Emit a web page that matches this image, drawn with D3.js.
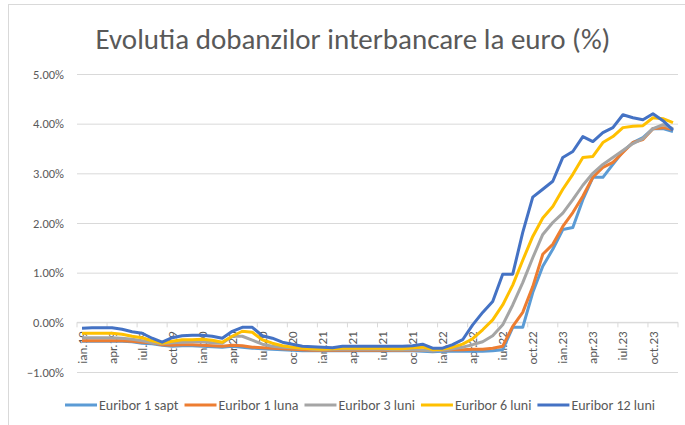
<!DOCTYPE html>
<html>
<head>
<meta charset="utf-8">
<script src="https://cdn.jsdelivr.net/npm/d3@7"></script>
<style>
  body { margin: 0; background: #fff; }
  text { font-family: Calibri, Carlito, Lato, sans-serif; fill: #595959; }
</style>
</head>
<body>
<div id="wrapper"></div>
<script>
// luni in romana, ani 2019-2023
const monthNames = ["ian","feb","mar","apr","mai","iun","iul","aug","sep","oct","noi","dec"];
const years = ["19","20","21","22","23"];
const yTicks = [-1, 0, 1, 2, 3, 4, 5];

const euribor1sapt = [
  -0.38,-0.38,-0.38,-0.38,-0.38,-0.39,-0.42,-0.43,-0.46,-0.48,-0.47,-0.47,
  -0.48,-0.49,-0.50,-0.48,-0.50,-0.52,-0.53,-0.54,-0.55,-0.56,-0.57,-0.57,
  -0.57,-0.57,-0.57,-0.57,-0.57,-0.57,-0.57,-0.57,-0.57,-0.57,-0.58,-0.59,
  -0.58,-0.58,-0.58,-0.58,-0.58,-0.57,-0.55,-0.10,-0.10,0.60,1.13,1.47,
  1.87,1.91,2.47,2.92,2.92,3.18,3.44,3.62,3.72,3.90,3.90,3.84
];
const euribor1luna = [
  -0.37,-0.37,-0.37,-0.37,-0.37,-0.38,-0.40,-0.41,-0.45,-0.46,-0.45,-0.45,
  -0.46,-0.47,-0.48,-0.46,-0.47,-0.50,-0.51,-0.52,-0.53,-0.54,-0.55,-0.56,
  -0.56,-0.56,-0.56,-0.56,-0.56,-0.56,-0.56,-0.56,-0.56,-0.56,-0.56,-0.57,
  -0.56,-0.55,-0.55,-0.54,-0.54,-0.52,-0.48,-0.08,0.20,0.72,1.37,1.57,
  1.93,2.21,2.54,2.92,3.12,3.22,3.42,3.62,3.68,3.90,3.92,3.88
];
const euribor3luni = [
  -0.31,-0.31,-0.31,-0.31,-0.32,-0.34,-0.37,-0.41,-0.43,-0.41,-0.40,-0.39,
  -0.39,-0.41,-0.42,-0.28,-0.28,-0.36,-0.44,-0.48,-0.50,-0.51,-0.52,-0.54,
  -0.55,-0.54,-0.54,-0.54,-0.54,-0.54,-0.54,-0.55,-0.55,-0.55,-0.56,-0.57,
  -0.56,-0.53,-0.50,-0.45,-0.39,-0.27,-0.05,0.35,0.80,1.30,1.77,2.01,
  2.20,2.47,2.76,3.00,3.18,3.32,3.46,3.60,3.70,3.90,3.98,3.90
];
const euribor6luni = [
  -0.22,-0.22,-0.22,-0.22,-0.24,-0.28,-0.31,-0.37,-0.42,-0.38,-0.35,-0.35,
  -0.34,-0.36,-0.40,-0.28,-0.18,-0.20,-0.35,-0.42,-0.47,-0.50,-0.52,-0.53,
  -0.54,-0.53,-0.52,-0.52,-0.52,-0.52,-0.52,-0.53,-0.53,-0.51,-0.50,-0.55,
  -0.54,-0.50,-0.44,-0.33,-0.15,0.05,0.35,0.75,1.25,1.73,2.10,2.33,
  2.68,2.98,3.32,3.34,3.62,3.74,3.92,3.95,3.96,4.12,4.10,4.02
];
const euribor12luni = [
  -0.12,-0.11,-0.11,-0.11,-0.14,-0.19,-0.22,-0.32,-0.40,-0.31,-0.27,-0.26,
  -0.26,-0.28,-0.32,-0.18,-0.10,-0.10,-0.27,-0.32,-0.40,-0.44,-0.48,-0.49,
  -0.50,-0.51,-0.48,-0.48,-0.48,-0.48,-0.48,-0.48,-0.48,-0.47,-0.44,-0.52,
  -0.52,-0.45,-0.35,-0.05,0.20,0.42,0.97,0.97,1.81,2.52,2.68,2.84,
  3.32,3.44,3.74,3.64,3.82,3.92,4.18,4.12,4.08,4.20,4.06,3.87
];

const seriesNames = ["Euribor 1 sapt","Euribor 1 luna","Euribor 3 luni","Euribor 6 luni","Euribor 12 luni"];
const seriesColors = ["#5B9BD5","#ED7D31","#A5A5A5","#FFC000","#4472C4"];

const categories = [];
years.forEach(y => monthNames.forEach(m => categories.push(m + "." + y)));

const series = [euribor1sapt, euribor1luna, euribor3luni, euribor6luni, euribor12luni]
    .map((vals, i) => ({
        name: seriesNames[i],
        color: seriesColors[i],
        values: vals.map((v, j) => ({cat: categories[j], v: v}))
    }));

var dimension = {
    width: 685,
    height: 425,
    left: 77,
    right: 678,
    top: 74,
    bottom: 372
};

const svg = d3.select("#wrapper")
    .append("svg")
    .attr("width", dimension.width)
    .attr("height", dimension.height);

// chenarul graficului
svg.append("rect")
    .attr("x", 8.5)
    .attr("y", 4.5)
    .attr("width", 700)
    .attr("height", 440)
    .attr("fill", "#fff")
    .attr("stroke", "#D9D9D9");

const x = d3.scaleBand()
    .domain(categories)
    .range([dimension.left, dimension.right]);

const y = d3.scaleLinear()
    .domain([-1, 5])
    .range([dimension.bottom, dimension.top]);

// titlu
const title = svg.append("text")
    .attr("x", 353)
    .attr("y", 49)
    .attr("text-anchor", "middle")
    .style("font-size", "24px")
    .text("Evolutia dobanzilor interbancare la euro (%)");
const tw = title.node().getComputedTextLength();
title.style("font-size", (24 * 515 / tw) + "px");

// axa y + grila
const yAxis = d3.axisLeft(y)
    .tickValues(yTicks)
    .tickSize(-(dimension.right - dimension.left))
    .tickPadding(13)
    .tickFormat(d => d3.format(".2f")(d) + "%");

svg.append("g")
    .attr("transform", `translate(${dimension.left},0)`)
    .call(yAxis)
    .call(g => g.select(".domain").remove())
    .call(g => g.selectAll("line").attr("stroke", "#D9D9D9"))
    .call(g => g.selectAll("text")
        .style("font-family", "Calibri, Carlito, Lato, sans-serif")
        .style("font-size", "12.5px")
        .attr("fill", "#595959"));

// axa x la 0%
const axisG = svg.append("g");
axisG.append("line")
    .attr("x1", dimension.left)
    .attr("x2", dimension.right)
    .attr("y1", y(0))
    .attr("y2", y(0))
    .attr("stroke", "#D9D9D9");

const tickCats = categories.filter((d, i) => i % 3 === 0);
axisG.selectAll(".tick")
    .data(tickCats.map(d => x(d)).concat([dimension.right]))
    .enter()
    .append("line")
    .attr("x1", d => d)
    .attr("x2", d => d)
    .attr("y1", y(0))
    .attr("y2", y(0) + 5)
    .attr("stroke", "#D9D9D9");

axisG.selectAll(".xlabel")
    .data(tickCats)
    .enter()
    .append("text")
    .attr("transform", d => `translate(${x(d) + x.bandwidth() / 2},${y(0) + 9}) rotate(-90)`)
    .attr("dy", "0.35em")
    .attr("text-anchor", "end")
    .style("font-size", "13px")
    .text(d => d);

// linii
const line = d3.line()
    .x(d => x(d.cat) + x.bandwidth() / 2)
    .y(d => y(d.v));

svg.append("g")
    .selectAll("path")
    .data(series)
    .enter()
    .append("path")
    .attr("d", d => line(d.values))
    .attr("fill", "none")
    .attr("stroke", d => d.color)
    .attr("stroke-width", 3)
    .attr("stroke-linejoin", "round");

// legenda
const legend = svg.append("g");
let lx = 0;
series.forEach(s => {
    const item = legend.append("g").attr("transform", `translate(${lx},0)`);
    item.append("line")
        .attr("x1", 0).attr("x2", 32)
        .attr("y1", 0).attr("y2", 0)
        .attr("stroke", s.color)
        .attr("stroke-width", 3);
    const t = item.append("text")
        .attr("x", 34)
        .attr("dy", "0.35em")
        .style("font-size", "14px")
        .text(s.name);
    lx += 34 + t.node().getComputedTextLength() + 6;
});
const legendWidth = lx - 6;
legend.attr("transform", `translate(${360 - legendWidth / 2},405)`);
</script>
</body>
</html>
